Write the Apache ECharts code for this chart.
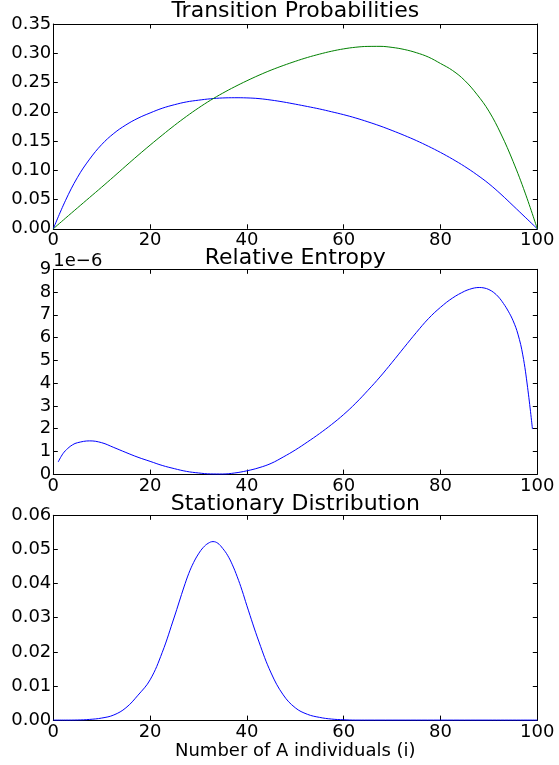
<!DOCTYPE html>
<html>
<head>
<meta charset="utf-8">
<script src="https://cdn.jsdelivr.net/npm/echarts@6/dist/echarts.min.js"></script>
<style>
  html, body { margin: 0; padding: 0; background: #ffffff; }
  #chart { width: 559px; height: 765px; }
</style>
</head>
<body>
<div id="chart"></div>
<script>
// ---------- data ----------
const titles = ['Transition Probabilities', 'Relative Entropy', 'Stationary Distribution'];
const xAxisTitle = 'Number of A individuals (i)';
const entropyExponent = '1e\u22126';

// sample positions (i) for transition probabilities
const sampleX = [0, 2.5, 5, 7.5, 10, 12.5, 15, 17.5, 20, 22.5, 25, 27.5, 30, 32.5, 35, 37.5, 40,
                 42.5, 45, 47.5, 50, 52.5, 55, 57.5, 60, 62.5, 65, 67.5, 70, 72.5, 75, 77.5, 80,
                 82.5, 85, 87.5, 90, 92.5, 95, 97.5, 100];

// Transition probabilities (blue curve)
const blueY = [0, 0.048, 0.088, 0.119, 0.144, 0.163, 0.1775, 0.189, 0.198, 0.206, 0.212, 0.2168, 0.2198, 0.2222, 0.2236, 0.2240, 0.2237,
               0.2225, 0.2200, 0.2168, 0.2130, 0.2090, 0.2048, 0.2000, 0.1950, 0.1893, 0.1828, 0.1758, 0.1680, 0.1597, 0.1508, 0.1410, 0.1305,
               0.1190, 0.1065, 0.0925, 0.0770, 0.0590, 0.0395, 0.0198, 0];

// Transition probabilities (green curve)
const greenY = [0, 0.0180, 0.0358, 0.0535, 0.0712, 0.0892, 0.1075, 0.1255, 0.1430, 0.1600, 0.1765, 0.1920, 0.2065, 0.2198, 0.2318, 0.2428, 0.2530,
                0.2625, 0.2712, 0.2790, 0.2862, 0.2928, 0.2985, 0.3035, 0.3075, 0.3103, 0.3117, 0.3118, 0.3100, 0.3065, 0.3010, 0.2935, 0.2825,
                0.2705, 0.2535, 0.2300, 0.2010, 0.1620, 0.1150, 0.0610, 0];

// Relative entropy, in units of 1e-6
const entropyX = [1, 2, 3, 4, 5, 7.5, 10, 12.5, 15, 17.5, 20, 22.5, 25, 27.5, 30, 32.5, 35, 37.5, 40, 42.5, 45, 47.5,
                  50, 52.5, 55, 57.5, 60, 62.5, 65, 67.5, 70, 72.5, 75, 77.5, 80, 82.5, 85,
                  86, 87, 88, 89, 90, 91, 92, 93, 94, 95, 96, 97, 98, 99];
const entropyY = [0.53, 0.90, 1.13, 1.29, 1.38, 1.46, 1.38, 1.17, 0.95, 0.74, 0.56, 0.38, 0.24, 0.12, 0.05, 0.008, 0.005, 0.05, 0.145, 0.28, 0.47, 0.75,
                  1.06, 1.41, 1.78, 2.18, 2.62, 3.12, 3.68, 4.27, 4.91, 5.57, 6.22, 6.83, 7.33, 7.74, 8.04,
                  8.12, 8.18, 8.20, 8.18, 8.11, 7.98, 7.78, 7.50, 7.16, 6.74, 6.15, 5.24, 3.80, 1.98];

// Stationary distribution
const statX = [0, 2.5, 5, 7.5, 10, 12.5, 15, 17.5, 20, 22.5, 25, 26, 27, 28, 29, 30, 31, 32, 33, 34, 35, 36, 37, 38, 39, 40,
               42.5, 45, 47.5, 50, 52.5, 55, 57.5, 60, 62.5, 65, 70, 80, 90, 100];
const statY = [0, 0, 0.00003, 0.0002, 0.0006, 0.0015, 0.0036, 0.0073, 0.0118, 0.0198, 0.0302, 0.0346, 0.0390, 0.0430, 0.0462, 0.0487,
               0.0506, 0.0518, 0.0523, 0.0518, 0.0503, 0.0483, 0.0455, 0.0420, 0.0380, 0.0335,
               0.0229, 0.0138, 0.0074, 0.0036, 0.0017, 0.0008, 0.0003, 0.0001, 0, 0, 0, 0, 0, 0];

// axis ranges / tick steps
const xRange = { min: 0, max: 100, interval: 20 };
const yRanges = [
  { min: 0, max: 0.35, interval: 0.05, decimals: 2 },
  { min: 0, max: 9, interval: 1, decimals: 0 },
  { min: 0, max: 0.06, interval: 0.01, decimals: 2 }
];

// ---------- chart ----------
const FONT = 'DejaVu Sans';
const pairs = (xs, ys) => xs.map((x, k) => [x, ys[k]]);

const gridTops = [24, 269.3, 515.3];
const gridHeight = 204.8;
const grids = gridTops.map(t => ({ left: 53.3, right: 21.7, top: t, height: gridHeight, containLabel: false }));

const tickStyle = { show: true, inside: true, length: 4.5, lineStyle: { color: '#000', width: 1 } };
const lineStyleAxis = { show: true, onZero: false, lineStyle: { color: '#000', width: 1 } };

const xAxes = [];
const yAxes = [];
for (let g = 0; g < 3; g++) {
  xAxes.push({
    type: 'value', gridIndex: g, position: 'bottom',
    min: xRange.min, max: xRange.max, interval: xRange.interval,
    axisLine: lineStyleAxis, axisTick: tickStyle, splitLine: { show: false },
    axisLabel: { show: true, margin: 3, color: '#000', fontSize: 18, fontFamily: FONT },
    name: g === 2 ? xAxisTitle : '', nameLocation: 'middle', nameGap: 30,
    nameTextStyle: { color: '#000', fontSize: 18, fontFamily: FONT, verticalAlign: 'middle' }
  });
  xAxes.push({
    type: 'value', gridIndex: g, position: 'top',
    min: xRange.min, max: xRange.max, interval: xRange.interval,
    axisLine: lineStyleAxis, axisTick: tickStyle, splitLine: { show: false },
    axisLabel: { show: false }
  });
  const r = yRanges[g];
  yAxes.push({
    type: 'value', gridIndex: g, position: 'left',
    min: r.min, max: r.max, interval: r.interval,
    axisLine: lineStyleAxis, axisTick: tickStyle, splitLine: { show: false },
    axisLabel: { show: true, margin: 2, color: '#000', fontSize: 18, fontFamily: FONT,
                 formatter: v => v.toFixed(r.decimals) }
  });
  yAxes.push({
    type: 'value', gridIndex: g, position: 'right',
    min: r.min, max: r.max, interval: r.interval,
    axisLine: lineStyleAxis, axisTick: tickStyle, splitLine: { show: false },
    axisLabel: { show: false }
  });
}

const lineSeries = (name, data, g, color) => ({
  name, type: 'line', data, xAxisIndex: g * 2, yAxisIndex: g * 2,
  showSymbol: false, symbol: 'none', smooth: 0.4,
  lineStyle: { color, width: 1 }, itemStyle: { color },
  emphasis: { disabled: true }, clip: false
});

const titleCenters = [11.7, 258.3, 504.5];
const chart = echarts.init(document.getElementById('chart'), null, { renderer: 'canvas' });
chart.setOption({
  animation: false,
  backgroundColor: '#ffffff',
  grid: grids,
  xAxis: xAxes,
  yAxis: yAxes,
  graphic: [
    ...titles.map((t, k) => ({
      type: 'text', x: 295.3, y: titleCenters[k],
      style: { text: t, fill: '#000', font: '22px "' + FONT + '"', align: 'center', verticalAlign: 'middle' }
    })),
    { type: 'text', x: 53.3, y: 261,
      style: { text: entropyExponent, fill: '#000', font: '18px "' + FONT + '"', align: 'left', verticalAlign: 'middle' } }
  ],
  series: [
    lineSeries('blue', pairs(sampleX, blueY), 0, '#0000ff'),
    lineSeries('green', pairs(sampleX, greenY), 0, '#008000'),
    lineSeries('entropy', pairs(entropyX, entropyY), 1, '#0000ff'),
    lineSeries('stationary', pairs(statX, statY), 2, '#0000ff')
  ]
});
</script>
</body>
</html>
